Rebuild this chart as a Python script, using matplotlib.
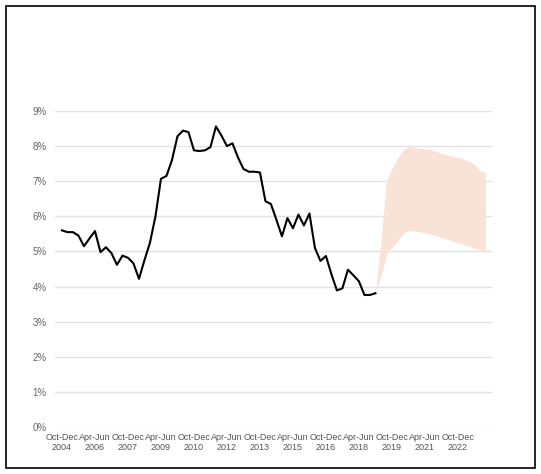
import matplotlib
matplotlib.use("Agg")
import matplotlib.pyplot as plt
from matplotlib.patches import Rectangle

plt.rcParams['font.family'] = ['Liberation Sans', 'DejaVu Sans']

actual = [5.6,5.55,5.55,5.45,5.15,5.37,5.58,4.98,5.12,4.95,4.62,4.88,4.82,4.66,4.22,4.75,
          5.25,6.0,7.07,7.15,7.6,8.28,8.44,8.4,7.88,7.86,7.88,7.97,8.56,8.3,8.0,8.08,7.68,
          7.35,7.27,7.27,7.25,6.43,6.35,5.9,5.43,5.95,5.66,6.05,5.74,6.08,5.1,4.73,4.87,
          4.35,3.89,3.95,4.48,4.32,4.15,3.76,3.76,3.81]
fan_upper = [3.81,5.3,7.0,7.35,7.65,7.88,7.98,7.96,7.94,7.92,7.9,7.85,7.8,7.75,7.7,7.68,
             7.63,7.57,7.48,7.3,7.25]
fan_lower = [3.81,4.3,4.9,5.12,5.3,5.5,5.6,5.58,5.56,5.53,5.5,5.45,5.4,5.35,5.3,5.25,
             5.2,5.15,5.1,5.05,5.03]
tick_labels = ["Oct-Dec\n2004","Apr-Jun\n2006","Oct-Dec\n2007","Apr-Jun\n2009","Oct-Dec\n2010",
               "Apr-Jun\n2012","Oct-Dec\n2013","Apr-Jun\n2015","Oct-Dec\n2016","Apr-Jun\n2018",
               "Oct-Dec\n2019","Apr-Jun\n2021","Oct-Dec\n2022"]

W, H = 541, 474
fig = plt.figure(figsize=(W/100, H/100), dpi=100)
fig.patches.append(Rectangle((6/W, 6/H), 529/W, 462/H, transform=fig.transFigure,
                             fill=False, edgecolor="black", linewidth=1.2))
ax = fig.add_axes([55/W, 47/H, 437/W, 316/H])

n = len(actual)
xa = list(range(n))
xf = list(range(n-1, n-1+len(fan_upper)))
ax.fill_between(xf, fan_lower, fan_upper, color="#f9e3d6", linewidth=0)
ax.plot(xa, actual, color="black", linewidth=1.5)

ax.set_xlim(-1.27, 78.2)
ax.set_ylim(0, 9)
ax.set_yticks(range(10))
ax.set_yticklabels([f"{i}%" for i in range(10)], color="#666666", fontsize=7)
ax.set_xticks([6*i for i in range(len(tick_labels))])
ax.set_xticklabels(tick_labels, color="#555555", fontsize=6.5, linespacing=1.2)
ax.tick_params(length=0, pad=6)
ax.tick_params(axis="x", pad=4)
ax.grid(axis="y", color="#e2e2e2", linewidth=1)
ax.set_axisbelow(True)
for s in ax.spines.values():
    s.set_visible(False)
fig.savefig("out.png", dpi=100)
